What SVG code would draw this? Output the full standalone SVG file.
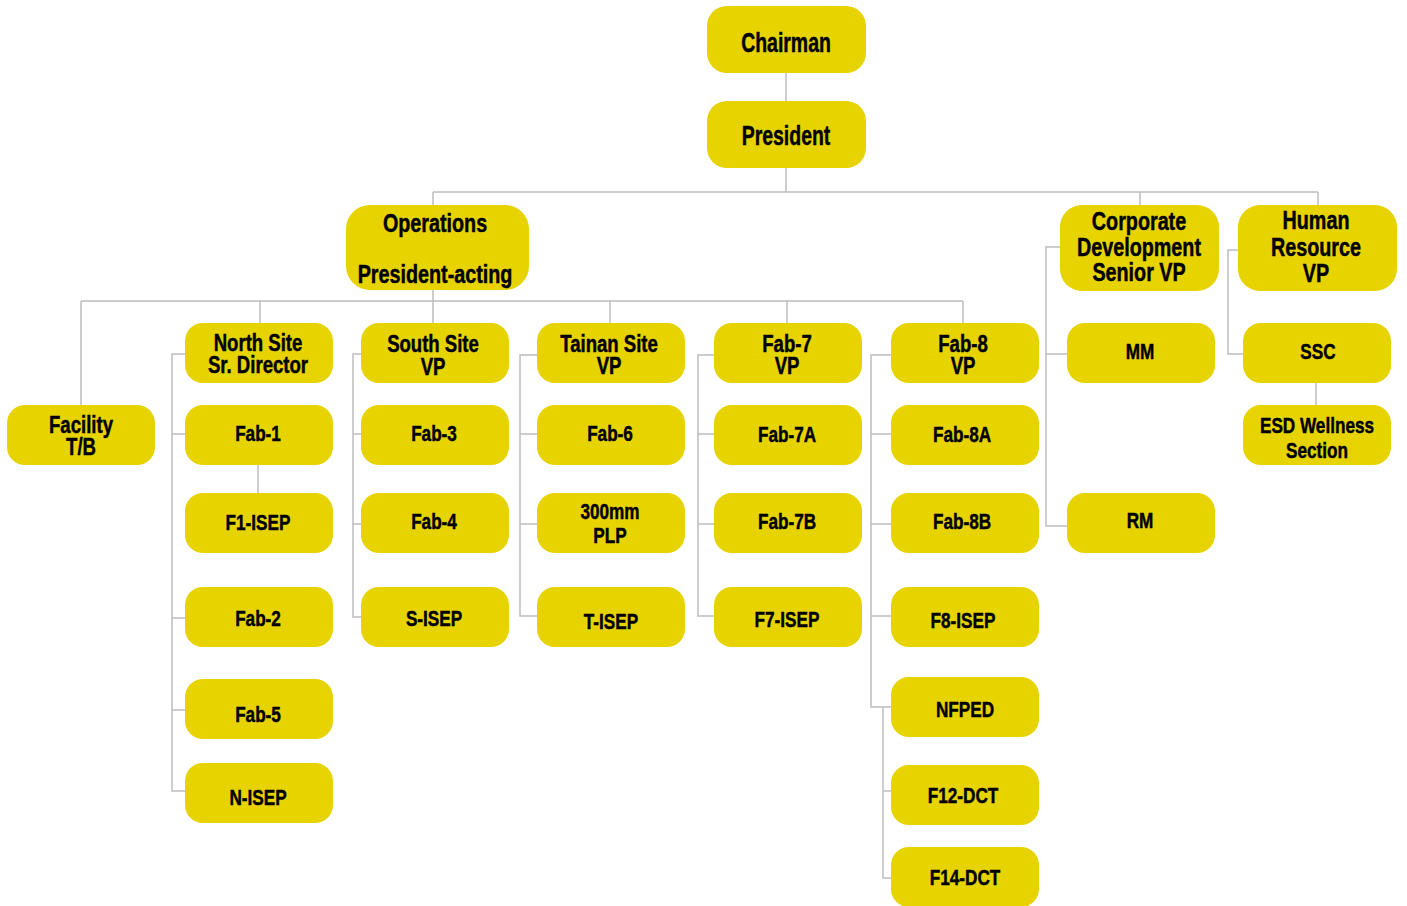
<svg xmlns="http://www.w3.org/2000/svg" width="1407" height="906" viewBox="0 0 1407 906">
<style>
.b{fill:#E6D300}
.c{fill:none;stroke:#BDBDBD;stroke-width:1.5}
text{font-family:"Liberation Sans",Arial,sans-serif;font-weight:bold;fill:#000;stroke:#000;stroke-width:0.45;text-anchor:middle}
.s{font-size:22px}
.m{font-size:23.5px}
.l{font-size:25px}
.x{font-size:27px}
</style>
<rect width="1407" height="906" fill="#fff"/>
<g id="connectors" class="c">
<path d="M786,73V101M786,168V192M433,192H1318M433,192V205M1140,192V205M1318,192V205"/>
<path d="M433,290V301M81,301H963M81,301V405M260,301V323M433,301V323M610,301V323M787,301V323M963,301V323"/>
<path d="M185,354H172V791H185M172,434H185M172,618H185M172,710H185M258,465V493"/>
<path d="M361,354H353V617H361M353,434H361M353,524H361"/>
<path d="M537,355H520V616H537M520,434H537M520,524H537"/>
<path d="M714,355H698V616H714M698,434H714M698,524H714"/>
<path d="M891,355H871V707H891M871,434H891M871,524H891M871,616H891M883,707V878H891M883,791H891"/>
<path d="M1060,247H1046V526H1067M1046,354H1067"/>
<path d="M1238,250H1228V354H1243M1316,383V405"/>
</g>
<g id="chairman"><rect class="b" x="707" y="6" width="159" height="67" rx="20"/><text class="x" transform="translate(786,52) scale(0.72,1)">Chairman</text></g>
<g id="president"><rect class="b" x="707" y="101" width="159" height="67" rx="20"/><text class="x" transform="translate(786,145) scale(0.72,1)">President</text></g>
<g id="operations"><rect class="b" x="346" y="205" width="183" height="85" rx="24"/><text class="l" transform="translate(435,232) scale(0.79,1)">Operations</text><text class="l" transform="translate(435,283) scale(0.79,1)">President-acting</text></g>
<g id="corporate"><rect class="b" x="1060" y="205" width="159" height="86" rx="22"/><text class="l" transform="translate(1139,230) scale(0.79,1)">Corporate<tspan x="0" y="26">Development</tspan><tspan x="0" y="51">Senior VP</tspan></text></g>
<g id="hr"><rect class="b" x="1238" y="205" width="159" height="86" rx="22"/><text class="l" transform="translate(1316,229) scale(0.79,1)">Human<tspan x="0" y="27">Resource</tspan><tspan x="0" y="53">VP</tspan></text></g>
<g id="facility"><rect class="b" x="7" y="405" width="148" height="60" rx="18"/><text class="m" transform="translate(81,433) scale(0.79,1)">Facility<tspan x="0" y="22">T/B</tspan></text></g>
<g id="north"><rect class="b" x="185" y="323" width="148" height="60" rx="18"/><text class="m" transform="translate(258,351) scale(0.79,1)">North Site<tspan x="0" y="22">Sr. Director</tspan></text></g>
<g id="south"><rect class="b" x="361" y="323" width="148" height="60" rx="18"/><text class="m" transform="translate(433,352) scale(0.79,1)">South Site<tspan x="0" y="23">VP</tspan></text></g>
<g id="tainan"><rect class="b" x="537" y="323" width="148" height="60" rx="18"/><text class="m" transform="translate(609,352) scale(0.79,1)">Tainan Site<tspan x="0" y="22">VP</tspan></text></g>
<g id="fab7"><rect class="b" x="714" y="323" width="148" height="60" rx="18"/><text class="m" transform="translate(787,352) scale(0.79,1)">Fab-7<tspan x="0" y="22">VP</tspan></text></g>
<g id="fab8"><rect class="b" x="891" y="323" width="148" height="60" rx="18"/><text class="m" transform="translate(963,352) scale(0.79,1)">Fab-8<tspan x="0" y="22">VP</tspan></text></g>
<g id="fab1"><rect class="b" x="185" y="405" width="148" height="60" rx="18"/><text class="s" transform="translate(258,441) scale(0.78,1)">Fab-1</text></g>
<g id="fab3"><rect class="b" x="361" y="405" width="148" height="60" rx="18"/><text class="s" transform="translate(434,441) scale(0.78,1)">Fab-3</text></g>
<g id="fab6"><rect class="b" x="537" y="405" width="148" height="60" rx="18"/><text class="s" transform="translate(610,441) scale(0.78,1)">Fab-6</text></g>
<g id="fab7a"><rect class="b" x="714" y="405" width="148" height="60" rx="18"/><text class="s" transform="translate(787,442) scale(0.78,1)">Fab-7A</text></g>
<g id="fab8a"><rect class="b" x="891" y="405" width="148" height="60" rx="18"/><text class="s" transform="translate(962,442) scale(0.78,1)">Fab-8A</text></g>
<g id="f1isep"><rect class="b" x="185" y="493" width="148" height="60" rx="18"/><text class="s" transform="translate(258,530) scale(0.78,1)">F1-ISEP</text></g>
<g id="fab4"><rect class="b" x="361" y="493" width="148" height="60" rx="18"/><text class="s" transform="translate(434,529) scale(0.78,1)">Fab-4</text></g>
<g id="plp"><rect class="b" x="537" y="493" width="148" height="60" rx="18"/><text class="s" transform="translate(610,519) scale(0.78,1)">300mm<tspan x="0" y="24">PLP</tspan></text></g>
<g id="fab7b"><rect class="b" x="714" y="493" width="148" height="60" rx="18"/><text class="s" transform="translate(787,529) scale(0.78,1)">Fab-7B</text></g>
<g id="fab8b"><rect class="b" x="891" y="493" width="148" height="60" rx="18"/><text class="s" transform="translate(962,529) scale(0.78,1)">Fab-8B</text></g>
<g id="fab2"><rect class="b" x="185" y="587" width="148" height="60" rx="18"/><text class="s" transform="translate(258,626) scale(0.78,1)">Fab-2</text></g>
<g id="sisep"><rect class="b" x="361" y="587" width="148" height="60" rx="18"/><text class="s" transform="translate(434,626) scale(0.78,1)">S-ISEP</text></g>
<g id="tisep"><rect class="b" x="537" y="587" width="148" height="60" rx="18"/><text class="s" transform="translate(611,629) scale(0.78,1)">T-ISEP</text></g>
<g id="f7isep"><rect class="b" x="714" y="587" width="148" height="60" rx="18"/><text class="s" transform="translate(787,627) scale(0.78,1)">F7-ISEP</text></g>
<g id="f8isep"><rect class="b" x="891" y="587" width="148" height="60" rx="18"/><text class="s" transform="translate(963,628) scale(0.78,1)">F8-ISEP</text></g>
<g id="fab5"><rect class="b" x="185" y="679" width="148" height="60" rx="18"/><text class="s" transform="translate(258,722) scale(0.78,1)">Fab-5</text></g>
<g id="nisep"><rect class="b" x="185" y="763" width="148" height="60" rx="18"/><text class="s" transform="translate(258,805) scale(0.78,1)">N-ISEP</text></g>
<g id="nfped"><rect class="b" x="891" y="677" width="148" height="60" rx="18"/><text class="s" transform="translate(965,717) scale(0.78,1)">NFPED</text></g>
<g id="f12dct"><rect class="b" x="891" y="765" width="148" height="60" rx="18"/><text class="s" transform="translate(963,803) scale(0.78,1)">F12-DCT</text></g>
<g id="f14dct"><rect class="b" x="891" y="847" width="148" height="60" rx="18"/><text class="s" transform="translate(965,885) scale(0.78,1)">F14-DCT</text></g>
<g id="mm"><rect class="b" x="1067" y="323" width="148" height="60" rx="18"/><text class="s" transform="translate(1140,359) scale(0.78,1)">MM</text></g>
<g id="rm"><rect class="b" x="1067" y="493" width="148" height="60" rx="18"/><text class="s" transform="translate(1140,528) scale(0.78,1)">RM</text></g>
<g id="ssc"><rect class="b" x="1243" y="323" width="148" height="60" rx="18"/><text class="s" transform="translate(1318,359) scale(0.78,1)">SSC</text></g>
<g id="esd"><rect class="b" x="1243" y="405" width="148" height="60" rx="18"/><text class="s" transform="translate(1317,433) scale(0.78,1)">ESD Wellness<tspan x="0" y="25">Section</tspan></text></g>
</svg>
